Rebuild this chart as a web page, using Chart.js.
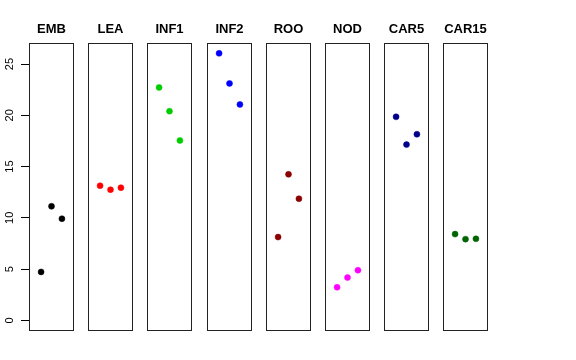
<!DOCTYPE html>
<html>
<head>
<meta charset="utf-8">
<script src="https://cdn.jsdelivr.net/npm/chart.js@4.4.1/dist/chart.umd.min.js"></script>
<style>
  body { margin: 0; background: #fff; }
  #wrap { position: relative; width: 576px; height: 360px; }
  canvas { position: absolute; top: 0; }
</style>
</head>
<body>
<div id="wrap"></div>
<script>
// panels and values (3 replicates each)
const panels = ['EMB', 'LEA', 'INF1', 'INF2', 'ROO', 'NOD', 'CAR5', 'CAR15']
const colors = ['#000000', '#FF0000', '#00CD00', '#0000FF', '#8B0000', '#FF00FF', '#00008B', '#006400']
const reps = [1, 2, 3]
const emb = [4.72, 11.12, 9.91]
const lea = [13.13, 12.74, 12.94]
const inf1 = [22.72, 20.40, 17.54]
const inf2 = [26.04, 23.11, 21.06]
const roo = [8.12, 14.24, 11.86]
const nod = [3.23, 4.17, 4.89]
const car5 = [19.85, 17.14, 18.15]
const car15 = [8.41, 7.92, 7.95]
const values = [emb, lea, inf1, inf2, roo, nod, car5, car15]
const yTicks = [0, 5, 10, 15, 20, 25]

const yMin = -1.04
const yMax = 27.04

const wrap = document.getElementById('wrap')

function addCanvas(left, width) {
    const canvas = document.createElement('canvas')
    canvas.width = width
    canvas.height = 360
    canvas.style.left = left + 'px'
    canvas.style.width = width + 'px'
    canvas.style.height = '360px'
    wrap.appendChild(canvas)
    return canvas
}

// box around each panel
const boxPlugin = {
    id: 'box',
    afterDraw(chart) {
        const { ctx, chartArea: a } = chart
        ctx.save()
        ctx.strokeStyle = '#222'
        ctx.lineWidth = 1
        ctx.strokeRect(Math.round(a.left) + 0.5, Math.round(a.top) + 0.5,
            Math.round(a.right - a.left) - 1, Math.round(a.bottom - a.top) - 1)
        ctx.restore()
    }
}

// y axis: its own little chart, the tick marks are its grid lines (x 21..29)
new Chart(addCanvas(0, 29).getContext('2d'), {
    type: 'scatter',
    data: { datasets: [] },
    options: {
        responsive: false,
        animation: false,
        events: [],
        layout: { autoPadding: false, padding: { left: 0, right: 0, top: 43.1, bottom: 29 } },
        plugins: { legend: { display: false }, tooltip: { enabled: false } },
        scales: {
            x: { type: 'linear', min: 0, max: 1, display: false },
            y: {
                type: 'linear',
                min: yMin,
                max: yMax,
                afterFit: s => { s.width = 21 },
                afterBuildTicks: s => { s.ticks = yTicks.map(v => ({ value: v })) },
                border: { display: false },
                grid: { drawOnChartArea: true, drawTicks: false, color: '#000', lineWidth: 1 },
                ticks: {
                    color: '#000',
                    font: { family: 'Liberation Sans', size: 11 },
                    minRotation: 90,
                    maxRotation: 90,
                    crossAlign: 'center',
                    padding: 5
                }
            }
        }
    }
})

panels.forEach((name, i) => {
    const boxLeft = Math.round(29 + i * 59.19)
    const canvas = addCanvas(boxLeft - 1, 47)

    new Chart(canvas.getContext('2d'), {
        type: 'scatter',
        data: {
            datasets: [{
                data: values[i].map((v, j) => ({ x: reps[j], y: v })),
                backgroundColor: colors[i],
                borderColor: colors[i],
                borderWidth: 0.5,
                pointRadius: 3
            }]
        },
        options: {
            responsive: false,
            animation: false,
            events: [],
            layout: { autoPadding: false, padding: { left: 1, right: 1, bottom: 29, top: 0 } },
            plugins: {
                legend: { display: false },
                tooltip: { enabled: false },
                title: {
                    display: true,
                    fullSize: false,
                    text: name,
                    color: '#000',
                    font: { family: 'Liberation Sans', size: 13, weight: 'bold' },
                    padding: { top: 21.5, bottom: 6 }
                }
            },
            scales: {
                x: { type: 'linear', min: -0.16, max: 4.16, display: false },
                y: { type: 'linear', min: yMin, max: yMax, display: false }
            }
        },
        plugins: [boxPlugin]
    })
})
</script>
</body>
</html>
